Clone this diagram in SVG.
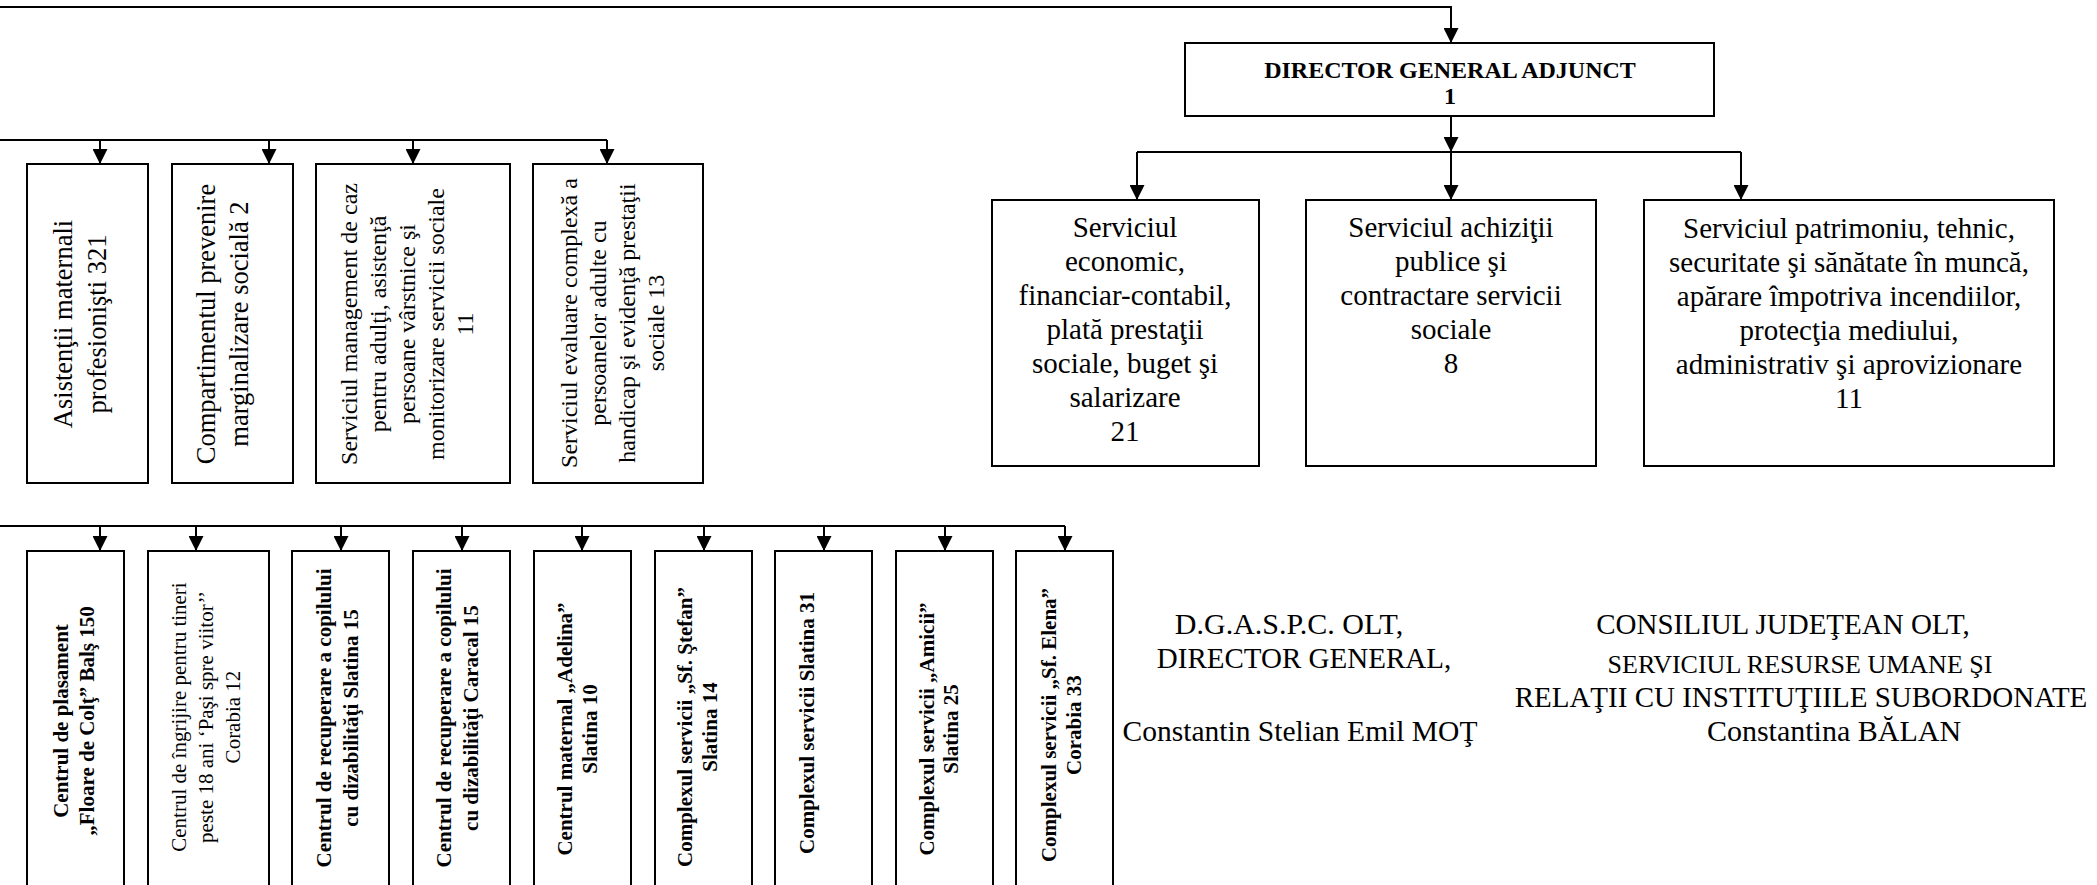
<svg xmlns="http://www.w3.org/2000/svg" width="2097" height="885" viewBox="0 0 2097 885">
  <style>
    .box { fill: #fff; stroke: #000; stroke-width: 2; }
    .ln { fill: none; stroke: #000; stroke-width: 2; }
    .t { font-family: "Liberation Serif", "Times New Roman", serif; fill: #000; text-anchor: middle; }
    .b { font-weight: bold; }
  </style>
  <defs>
    <marker id="ah" markerUnits="userSpaceOnUse" viewBox="0 0 15 15" markerWidth="15" markerHeight="15" refX="15" refY="7.5" orient="auto">
      <path d="M0,0 L15,7.5 L0,15 z" fill="#000"/>
    </marker>
  </defs>
  <rect width="2097" height="885" fill="#fff"/>

  <!-- connectors -->
  <g id="connectors">
    <!-- line from the general director down to the deputy director -->
    <polyline class="ln" points="0,7 1451,7 1451,43" marker-end="url(#ah)"/>
    <!-- upper-left branch -->
    <line class="ln" x1="0" y1="140" x2="607" y2="140"/>
    <line class="ln" x1="100" y1="140" x2="100" y2="164" marker-end="url(#ah)"/>
    <line class="ln" x1="269" y1="140" x2="269" y2="164" marker-end="url(#ah)"/>
    <line class="ln" x1="413" y1="140" x2="413" y2="164" marker-end="url(#ah)"/>
    <line class="ln" x1="607" y1="140" x2="607" y2="164" marker-end="url(#ah)"/>
    <!-- lower branch: centres and complexes -->
    <line class="ln" x1="0" y1="526" x2="1065" y2="526"/>
    <line class="ln" x1="100" y1="526" x2="100" y2="551" marker-end="url(#ah)"/>
    <line class="ln" x1="196" y1="526" x2="196" y2="551" marker-end="url(#ah)"/>
    <line class="ln" x1="341" y1="526" x2="341" y2="551" marker-end="url(#ah)"/>
    <line class="ln" x1="462" y1="526" x2="462" y2="551" marker-end="url(#ah)"/>
    <line class="ln" x1="582" y1="526" x2="582" y2="551" marker-end="url(#ah)"/>
    <line class="ln" x1="704" y1="526" x2="704" y2="551" marker-end="url(#ah)"/>
    <line class="ln" x1="824" y1="526" x2="824" y2="551" marker-end="url(#ah)"/>
    <line class="ln" x1="945" y1="526" x2="945" y2="551" marker-end="url(#ah)"/>
    <line class="ln" x1="1065" y1="526" x2="1065" y2="551" marker-end="url(#ah)"/>
    <!-- deputy director branch -->
    <line class="ln" x1="1451" y1="116" x2="1451" y2="152" marker-end="url(#ah)"/>
    <line class="ln" x1="1137" y1="152" x2="1741" y2="152"/>
    <line class="ln" x1="1137" y1="152" x2="1137" y2="200" marker-end="url(#ah)"/>
    <line class="ln" x1="1451" y1="152" x2="1451" y2="200" marker-end="url(#ah)"/>
    <line class="ln" x1="1741" y1="152" x2="1741" y2="200" marker-end="url(#ah)"/>
  </g>

  <!-- upper-left services (vertical text) -->
  <g id="n-asistenti" class="t" font-size="26.5">
    <rect class="box" x="27" y="164" width="121" height="319"/>
    <text x="72" y="324" transform="rotate(-90 72 324)">Asistenţii maternali</text>
    <text x="106" y="324" transform="rotate(-90 106 324)">profesionişti  321</text>
  </g>
  <g id="n-prevenire" class="t" font-size="26.5">
    <rect class="box" x="172" y="164" width="121" height="319"/>
    <text x="215" y="324" transform="rotate(-90 215 324)">Compartimentul prevenire</text>
    <text x="248" y="324" transform="rotate(-90 248 324)">marginalizare  socială  2</text>
  </g>
  <g id="n-management" class="t" font-size="24">
    <rect class="box" x="316" y="164" width="194" height="319"/>
    <text x="357" y="324" transform="rotate(-90 357 324)">Serviciul management de caz</text>
    <text x="386" y="324" transform="rotate(-90 386 324)">pentru adulţi, asistenţă</text>
    <text x="415" y="324" transform="rotate(-90 415 324)">persoane vârstnice şi</text>
    <text x="444" y="324" transform="rotate(-90 444 324)">monitorizare servicii sociale</text>
    <text x="473" y="324" transform="rotate(-90 473 324)">11</text>
  </g>
  <g id="n-evaluare" class="t" font-size="24">
    <rect class="box" x="533" y="164" width="170" height="319"/>
    <text x="577" y="323" transform="rotate(-90 577 323)">Serviciul evaluare complexă a</text>
    <text x="606" y="323" transform="rotate(-90 606 323)">persoanelor adulte cu</text>
    <text x="635" y="323" transform="rotate(-90 635 323)">handicap şi evidenţă prestaţii</text>
    <text x="664" y="323" transform="rotate(-90 664 323)">sociale  13</text>
  </g>

  <!-- lower row: centres and service complexes -->
  <g id="n-floare" class="t b" font-size="21">
    <rect class="box" x="27" y="551" width="97" height="345"/>
    <text x="68" y="721" transform="rotate(-90 68 721)">Centrul de plasament</text>
    <text x="94" y="721" transform="rotate(-90 94 721)">„Floare de Colţ” Balş  150</text>
  </g>
  <g id="n-pasi" class="t" font-size="21">
    <rect class="box" x="148" y="551" width="121" height="345"/>
    <text x="186" y="717" transform="rotate(-90 186 717)">Centrul de îngrijire pentru tineri</text>
    <text x="213" y="717" transform="rotate(-90 213 717)">peste 18 ani ‘Paşi spre viitor’’</text>
    <text x="240" y="717" transform="rotate(-90 240 717)">Corabia   12</text>
  </g>
  <g id="n-recuperare-slatina" class="t b" font-size="21">
    <rect class="box" x="292" y="551" width="97" height="345"/>
    <text x="331" y="718" transform="rotate(-90 331 718)">Centrul de recuperare a copilului</text>
    <text x="358" y="718" transform="rotate(-90 358 718)">cu dizabilităţi  Slatina  15</text>
  </g>
  <g id="n-recuperare-caracal" class="t b" font-size="21">
    <rect class="box" x="413" y="551" width="97" height="345"/>
    <text x="451" y="718" transform="rotate(-90 451 718)">Centrul de recuperare a copilului</text>
    <text x="478" y="718" transform="rotate(-90 478 718)">cu dizabilităţi  Caracal  15</text>
  </g>
  <g id="n-adelina" class="t b" font-size="21">
    <rect class="box" x="534" y="551" width="97" height="345"/>
    <text x="572" y="729" transform="rotate(-90 572 729)">Centrul maternal  „Adelina”</text>
    <text x="597" y="729" transform="rotate(-90 597 729)">Slatina   10</text>
  </g>
  <g id="n-stefan" class="t b" font-size="21">
    <rect class="box" x="655" y="551" width="97" height="345"/>
    <text x="692" y="727" transform="rotate(-90 692 727)">Complexul servicii „Sf. Ştefan”</text>
    <text x="717" y="727" transform="rotate(-90 717 727)">Slatina  14</text>
  </g>
  <g id="n-slatina" class="t b" font-size="21">
    <rect class="box" x="775" y="551" width="97" height="345"/>
    <text x="814" y="723" transform="rotate(-90 814 723)">Complexul servicii Slatina  31</text>
  </g>
  <g id="n-amicii" class="t b" font-size="21">
    <rect class="box" x="896" y="551" width="97" height="345"/>
    <text x="934" y="729" transform="rotate(-90 934 729)">Complexul servicii „Amicii”</text>
    <text x="958" y="729" transform="rotate(-90 958 729)">Slatina  25</text>
  </g>
  <g id="n-elena" class="t b" font-size="21">
    <rect class="box" x="1016" y="551" width="97" height="345"/>
    <text x="1056" y="725" transform="rotate(-90 1056 725)">Complexul servicii „Sf. Elena”</text>
    <text x="1081" y="725" transform="rotate(-90 1081 725)">Corabia  33</text>
  </g>

  <!-- deputy director and subordinate services -->
  <g id="n-director-adjunct" class="t b" font-size="24">
    <rect class="box" x="1185" y="43" width="529" height="73"/>
    <text x="1450" y="78">DIRECTOR GENERAL ADJUNCT</text>
    <text x="1450" y="104">1</text>
  </g>
  <g id="n-economic" class="t" font-size="29">
    <rect class="box" x="992" y="200" width="267" height="266"/>
    <text x="1125" y="237">Serviciul</text>
    <text x="1125" y="271">economic,</text>
    <text x="1125" y="305">financiar-contabil,</text>
    <text x="1125" y="339">plată prestaţii</text>
    <text x="1125" y="373">sociale, buget şi</text>
    <text x="1125" y="407">salarizare</text>
    <text x="1125" y="441">21</text>
  </g>
  <g id="n-achizitii" class="t" font-size="29">
    <rect class="box" x="1306" y="200" width="290" height="266"/>
    <text x="1451" y="237">Serviciul achiziţii</text>
    <text x="1451" y="271">publice şi</text>
    <text x="1451" y="305">contractare servicii</text>
    <text x="1451" y="339">sociale</text>
    <text x="1451" y="373">8</text>
  </g>
  <g id="n-patrimoniu" class="t" font-size="29">
    <rect class="box" x="1644" y="200" width="410" height="266"/>
    <text x="1849" y="238">Serviciul patrimoniu, tehnic,</text>
    <text x="1849" y="272">securitate şi sănătate în muncă,</text>
    <text x="1849" y="306">apărare împotriva incendiilor,</text>
    <text x="1849" y="340">protecţia mediului,</text>
    <text x="1849" y="374">administrativ şi aprovizionare</text>
    <text x="1849" y="408">11</text>
  </g>

  <!-- signatures -->
  <g id="sig-dgaspc" class="t">
    <text x="1289" y="634" font-size="30">D.G.A.S.P.C. OLT,</text>
    <text x="1304" y="668" font-size="29">DIRECTOR GENERAL,</text>
    <text x="1300" y="741" font-size="29.5">Constantin Stelian Emil MOŢ</text>
  </g>
  <g id="sig-consiliu" class="t">
    <text x="1783" y="634" font-size="29">CONSILIUL JUDEŢEAN OLT,</text>
    <text x="1800" y="673" font-size="26">SERVICIUL RESURSE UMANE ŞI</text>
    <text x="1801" y="707" font-size="29">RELAŢII CU INSTITUŢIILE SUBORDONATE</text>
    <text x="1834" y="741" font-size="30">Constantina BĂLAN</text>
  </g>
</svg>
